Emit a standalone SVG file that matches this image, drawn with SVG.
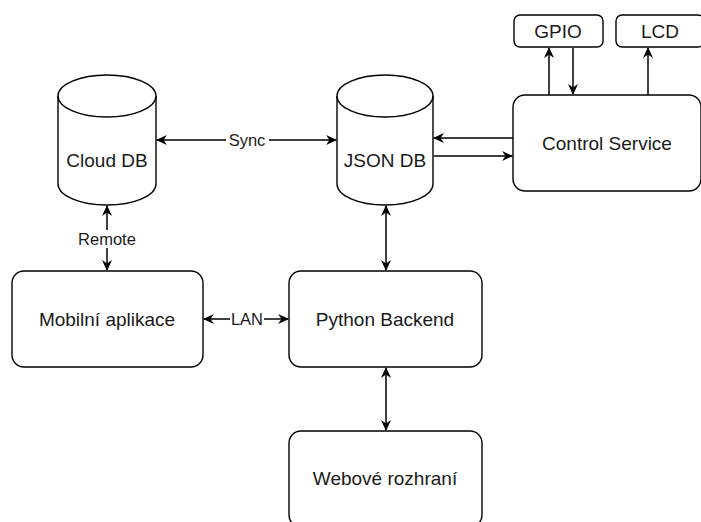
<svg xmlns="http://www.w3.org/2000/svg" width="701" height="522" viewBox="0 0 701 522">
<style>
.n{fill:#fff;stroke:#000;stroke-width:1.4}
.t{font-family:"Liberation Sans",Arial,sans-serif;font-size:19px;fill:#1a1a1a;text-anchor:middle}
.l{font-family:"Liberation Sans",Arial,sans-serif;font-size:16.5px;fill:#1a1a1a;text-anchor:middle}
.e{fill:none;stroke:#000;stroke-width:1.5}
</style>
<defs>
<marker id="a" viewBox="0 0 11 10" refX="10" refY="5" markerWidth="11" markerHeight="10" markerUnits="userSpaceOnUse" orient="auto-start-reverse">
<path d="M0,0 L11,5 L0,10 L3.5,5 Z" fill="#000"/>
</marker>
</defs>
<rect width="701" height="522" fill="#fff"/>
<g id="connectors">
<line class="e" x1="157" y1="140" x2="336" y2="140" marker-start="url(#a)" marker-end="url(#a)"/>
<rect x="226" y="131" width="43" height="18" fill="#fff"/>
<text class="l" x="247" y="146">Sync</text>
<line class="e" x1="107" y1="206" x2="107" y2="270" marker-start="url(#a)" marker-end="url(#a)"/>
<rect x="77" y="230" width="60" height="18" fill="#fff"/>
<text class="l" x="107" y="245">Remote</text>
<line class="e" x1="204" y1="319" x2="288" y2="319" marker-start="url(#a)" marker-end="url(#a)"/>
<rect x="230" y="310" width="34" height="18" fill="#fff"/>
<text class="l" x="247" y="325">LAN</text>
<line class="e" x1="386" y1="206" x2="386" y2="270" marker-start="url(#a)" marker-end="url(#a)"/>
<line class="e" x1="386" y1="368" x2="386" y2="430" marker-start="url(#a)" marker-end="url(#a)"/>
<line class="e" x1="513" y1="138" x2="434" y2="138" marker-end="url(#a)"/>
<line class="e" x1="434" y1="156" x2="512" y2="156" marker-end="url(#a)" stroke="#444"/>
<line class="e" x1="549" y1="95" x2="549" y2="48" marker-end="url(#a)"/>
<line class="e" x1="573" y1="48" x2="573" y2="94" marker-end="url(#a)"/>
<line class="e" x1="648" y1="95" x2="648" y2="48" marker-end="url(#a)"/>
</g>
<g id="cloud-db">
<path class="n" d="M58,96 A49,21 0 0 1 156,96 L156,184 A49,21 0 0 1 58,184 Z"/>
<path class="e" style="stroke-width:1.4" d="M58,96 A49,21 0 0 0 156,96"/>
<text class="t" x="107" y="167">Cloud DB</text>
</g>
<g id="json-db">
<path class="n" d="M337,96 A48,21 0 0 1 433,96 L433,184 A48,21 0 0 1 337,184 Z"/>
<path class="e" style="stroke-width:1.4" d="M337,96 A48,21 0 0 0 433,96"/>
<text class="t" x="385" y="167">JSON DB</text>
</g>
<g id="control-service">
<rect class="n" x="513" y="95" width="188" height="96" rx="12"/>
<text class="t" x="607" y="150">Control Service</text>
</g>
<g id="gpio">
<rect class="n" x="514" y="15" width="89" height="32" rx="6"/>
<text class="t" x="558" y="38">GPIO</text>
</g>
<g id="lcd">
<rect class="n" x="616" y="15" width="88" height="32" rx="6"/>
<text class="t" x="660" y="38">LCD</text>
</g>
<g id="mobilni-aplikace">
<rect class="n" x="12" y="271" width="191" height="96" rx="12"/>
<text class="t" x="107" y="326">Mobilní aplikace</text>
</g>
<g id="python-backend">
<rect class="n" x="289" y="271" width="193" height="96" rx="12"/>
<text class="t" x="385" y="326">Python Backend</text>
</g>
<g id="webove-rozhrani">
<rect class="n" x="289" y="431" width="193" height="96" rx="12"/>
<text class="t" x="385" y="485">Webové rozhraní</text>
</g>
</svg>
